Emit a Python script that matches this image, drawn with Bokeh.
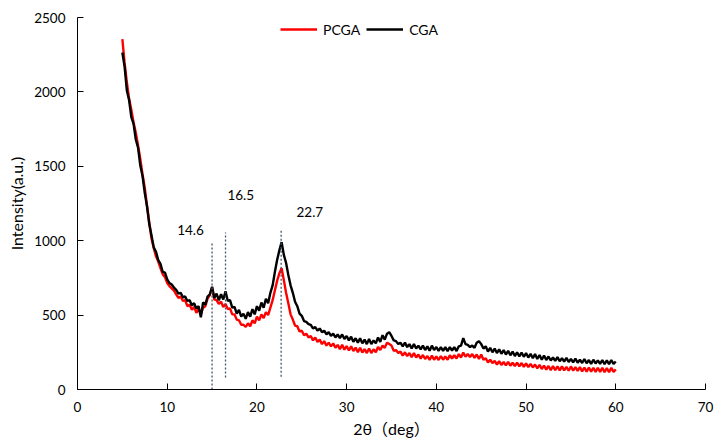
import numpy as np
from bokeh.plotting import figure
from bokeh.models import Range1d, Legend, LegendItem, ColumnDataSource
from bokeh.core.properties import value
from bokeh.embed import file_html
from bokeh.resources import INLINE

# ---- data (2theta grid: 5.00 .. 60.00 in 0.25 deg steps) ----
# each row = one degree: x.00, x.25, x.50, x.75
cga = [
    2265, 2170, 2010, 1945,   # 5
    1830, 1785, 1680, 1625,   # 6
    1505, 1435, 1320, 1230,   # 7
    1110, 1035, 955, 925,     # 8
    870, 845, 790, 785,       # 9
    740, 715, 705, 685,       # 10
    670, 645, 650, 620,       # 11
    625, 595, 600, 565,       # 12
    580, 545, 560, 485,       # 13
    585, 570, 625, 640,       # 14
    690, 615, 645, 600,       # 15
    640, 605, 660, 595,       # 16
    600, 550, 555, 510,       # 17
    535, 490, 510, 475,       # 18
    520, 490, 540, 505,       # 19
    560, 530, 585, 550,       # 20
    610, 580, 650, 700,       # 21
    790, 870, 935, 990,       # 22
    905, 850, 770, 700,       # 23
    650, 590, 560, 510,       # 24
    495, 460, 455, 440,       # 25
    435, 410, 420, 395,       # 26
    410, 385, 395, 370,       # 27
    385, 360, 375, 350,       # 28
    370, 345, 370, 340,       # 29
    360, 330, 355, 320,       # 30
    345, 315, 345, 310,       # 31
    335, 305, 340, 305,       # 32
    330, 310, 350, 320,       # 33
    365, 335, 375, 385,       # 34
    360, 330, 325, 305,       # 35
    315, 290, 315, 285,       # 36
    305, 275, 305, 275,       # 37
    295, 270, 295, 265,       # 38
    290, 260, 295, 265,       # 39
    285, 260, 285, 260,       # 40
    285, 258, 285, 262,       # 41
    285, 258, 290, 295,       # 42
    345, 305, 300, 285,       # 43
    295, 280, 315, 325,       # 44
    305, 275, 290, 255,       # 45
    280, 250, 275, 245,       # 46
    270, 240, 265, 235,       # 47
    260, 230, 255, 225,       # 48
    250, 222, 248, 220,       # 49
    245, 215, 240, 210,       # 50
    238, 205, 232, 200,       # 51
    228, 198, 222, 195,       # 52
    215, 192, 218, 190,       # 53
    210, 188, 212, 185,       # 54
    205, 182, 208, 180,       # 55
    200, 178, 205, 176,       # 56
    198, 172, 200, 175,       # 57
    196, 172, 198, 170,       # 58
    195, 170, 198, 172,       # 59
    188,                      # 60
]

pcga = [
    2355, 2195, 2065, 1955,   # 5
    1880, 1795, 1725, 1640,   # 6
    1550, 1445, 1355, 1235,   # 7
    1125, 1015, 950, 895,     # 8
    860, 815, 775, 755,       # 9
    715, 695, 680, 665,       # 10
    640, 615, 625, 595,       # 11
    600, 560, 570, 535,       # 12
    555, 515, 545, 505,       # 13
    550, 560, 610, 635,       # 14
    685, 605, 600, 575,       # 15
    590, 555, 575, 540,       # 16
    545, 505, 505, 470,       # 17
    465, 435, 435, 420,       # 18
    445, 425, 465, 445,       # 19
    490, 465, 505, 480,       # 20
    520, 500, 550, 600,       # 21
    665, 730, 780, 815,       # 22
    735, 650, 580, 505,       # 23
    470, 430, 425, 390,       # 24
    395, 365, 375, 350,       # 25
    360, 330, 350, 320,       # 26
    335, 305, 325, 295,       # 27
    315, 290, 310, 280,       # 28
    300, 270, 300, 268,       # 29
    292, 262, 290, 258,       # 30
    282, 250, 280, 248,       # 31
    272, 245, 275, 245,       # 32
    270, 250, 285, 265,       # 33
    295, 280, 315, 305,       # 34
    295, 260, 265, 245,       # 35
    255, 228, 250, 225,       # 36
    245, 218, 245, 215,       # 37
    235, 208, 232, 205,       # 38
    225, 198, 228, 200,       # 39
    222, 198, 225, 200,       # 40
    222, 200, 230, 208,       # 41
    230, 208, 238, 215,       # 42
    248, 220, 238, 218,       # 43
    238, 212, 235, 205,       # 44
    235, 200, 210, 182,       # 45
    200, 178, 192, 168,       # 46
    190, 165, 185, 162,       # 47
    185, 160, 180, 158,       # 48
    180, 155, 178, 152,       # 49
    175, 150, 172, 148,       # 50
    168, 142, 165, 138,       # 51
    160, 133, 158, 130,       # 52
    157, 130, 155, 128,       # 53
    155, 128, 152, 126,       # 54
    155, 127, 150, 125,       # 55
    150, 122, 148, 120,       # 56
    148, 120, 146, 118,       # 57
    146, 118, 145, 116,       # 58
    144, 116, 145, 118,       # 59
    135,                      # 60
]

two_theta = np.round(5 + 0.25 * np.arange(len(cga)), 2)

peak_pos = [15.0, 16.5, 22.7]
peak_low = [0, 80, 85]
peak_high = [985, 1055, 1080]
peak_labels = ["14.6", "16.5", "22.7"]

x_ticks = [0, 10, 20, 30, 40, 50, 60, 70]
y_ticks = [0, 500, 1000, 1500, 2000, 2500]

FONT = "Lato, 'Noto Sans CJK SC', sans-serif"

p = figure(width=714, height=440, output_backend="svg", toolbar_location=None,
           x_range=Range1d(0, 70), y_range=Range1d(0, 2500),
           min_border_left=77, min_border_right=9, min_border_top=17, min_border_bottom=50)
p.outline_line_color = None
p.xgrid.visible = False
p.ygrid.visible = False
p.background_fill_color = "white"
p.border_fill_color = "white"

for ax in (p.xaxis[0], p.yaxis[0]):
    ax.axis_line_color = "black"
    ax.axis_line_width = 1
    ax.major_tick_in = 6
    ax.major_tick_out = 0
    ax.minor_tick_line_color = None
    ax.major_tick_line_color = "black"
    ax.major_label_text_font = FONT
    ax.major_label_text_font_size = "13.5px"
    ax.major_label_text_color = "black"
    ax.axis_label_text_font = FONT
    ax.axis_label_text_font_size = "16px"
    ax.axis_label_text_font_style = "normal"
    ax.axis_label_text_color = "black"
    ax.major_label_standoff = 12

p.xaxis.ticker = x_ticks
p.yaxis.ticker = y_ticks
p.xaxis.axis_label = "2θ（deg）"
p.yaxis.axis_label = "Intensity(a.u.)"
p.xaxis.axis_label_standoff = 4
p.yaxis.axis_label_standoff = 5

r_p = p.line(two_theta, pcga, line_color="#FF0000", line_width=2.4)
r_c = p.line(two_theta, cga, line_color="#000000", line_width=2.4)

p.segment(x0=peak_pos, y0=peak_low, x1=peak_pos, y1=peak_high,
          line_color="#44546A", line_width=1.3, line_dash="2 2")

lbl_src = ColumnDataSource(dict(x=[12.6, 18.2, 25.9], y=[1072, 1307, 1193], t=peak_labels))
p.text(x="x", y="y", text="t", source=lbl_src, text_font=value("Lato"),
       text_font_size="13.5px", text_align="center", text_baseline="middle", text_color="black")

legend = Legend(items=[LegendItem(label="PCGA", renderers=[r_p]),
                       LegendItem(label="CGA", renderers=[r_c])],
                orientation="horizontal", location=(203, 350))
legend.glyph_width = 37
legend.label_standoff = 6
legend.spacing = 6
legend.padding = 0
legend.margin = 0
legend.border_line_color = None
legend.background_fill_alpha = 0
legend.label_text_font = FONT
legend.label_text_font_size = "14px"
legend.label_text_color = "black"
p.add_layout(legend, "center")

open("out.html", "w").write(file_html(p, INLINE))
